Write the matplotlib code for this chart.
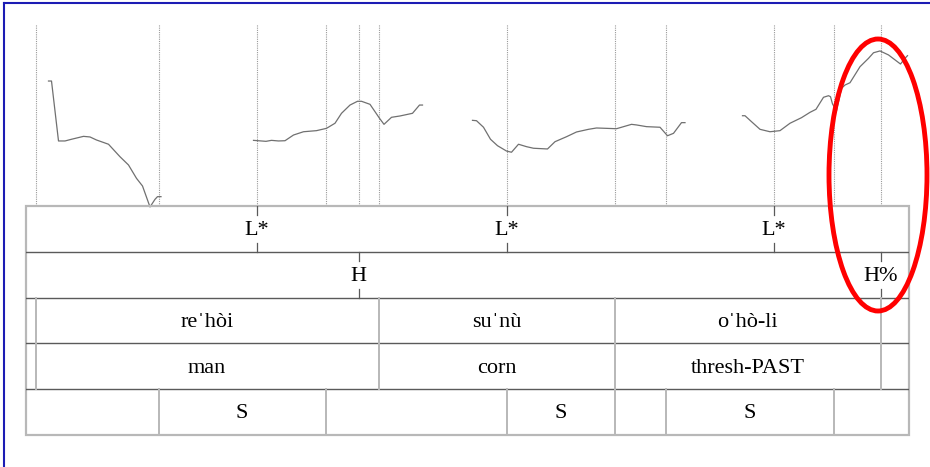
import matplotlib
matplotlib.use("Agg")
import matplotlib.pyplot as plt
from matplotlib.patches import Ellipse, Rectangle

# pitch track (time in s, f0 in Hz), one list per voiced stretch
seg_times = [
    [0.045, 0.051, 0.065, 0.078, 0.091, 0.115, 0.128, 0.141, 0.165, 0.188,
     0.205, 0.221, 0.233, 0.248, 0.258, 0.263, 0.270],
    [0.455, 0.480, 0.491, 0.505, 0.518, 0.535, 0.555, 0.581, 0.601, 0.618,
     0.631, 0.648, 0.663, 0.671, 0.688, 0.707, 0.716, 0.731, 0.748, 0.773,
     0.787, 0.793],
    [0.893, 0.901, 0.915, 0.929, 0.943, 0.961, 0.971, 0.985, 1.001, 1.015,
     1.043, 1.058, 1.081, 1.101, 1.125, 1.141, 1.181, 1.211, 1.221, 1.241,
     1.268, 1.283, 1.295, 1.311, 1.318],
    [1.433, 1.438, 1.451, 1.468, 1.488, 1.508, 1.528, 1.551, 1.568, 1.580,
     1.595, 1.605, 1.609, 1.613, 1.621, 1.631, 1.638, 1.648, 1.668, 1.685,
     1.695, 1.708, 1.725, 1.749, 1.758, 1.763],
]
seg_f0 = [
    [203.0, 203.0, 153.6, 153.6, 155.0, 157.4, 156.9, 154.4, 150.9, 140.6,
     133.8, 122.8, 116.5, 99.2, 105.5, 107.7, 107.7],
    [154.1, 153.3, 154.1, 153.6, 153.8, 158.5, 161.2, 162.1, 164.0, 168.2,
     176.4, 183.2, 186.3, 186.3, 183.8, 172.3, 167.3, 173.1, 174.2, 176.4,
     183.2, 183.2],
    [170.6, 170.3, 164.9, 155.0, 149.7, 145.3, 144.3, 150.9, 148.9, 147.6,
     147.0, 153.0, 157.1, 161.0, 163.2, 164.3, 163.7, 167.3, 166.8, 165.4,
     164.9, 157.9, 159.9, 168.7, 168.7],
    [174.4, 174.4, 169.5, 163.2, 161.2, 162.1, 168.2, 172.8, 177.2, 179.7,
     189.6, 190.9, 190.1, 184.1, 178.5, 197.0, 199.7, 201.6, 214.8, 221.7,
     226.3, 227.8, 224.5, 217.0, 221.7, 223.9],
]
duration = 1.766
f0_min, f0_max = 100, 250

# tiers
tone_times = [0.461, 0.962, 1.495]
tone_labels = ["L*", "L*", "L*"]
phrase_times = [0.665, 1.709]
phrase_labels = ["H", "H%"]
word_bounds = [0.0, 0.019, 0.705, 1.178, 1.709, duration]
word_labels = ["", "re\u02c8hòi", "su\u02c8nù", "o\u02c8hò-li", ""]
gloss_labels = ["", "man", "corn", "thresh-PAST", ""]
stress_bounds = [0.0, 0.265, 0.599, 0.962, 1.178, 1.279, 1.615, duration]
stress_labels = ["", "S", "", "S", "", "S", ""]

plt.rcParams["font.family"] = ["Liberation Serif", "DejaVu Serif"]

W, H = 930, 467
fig = plt.figure(figsize=(9.3, 4.67), dpi=100)

left, right = 26, 909
ax = fig.add_axes([left / W, 1 - 206 / H, (right - left) / W, (206 - 24) / H])
ax.set_xlim(0, duration)
ax.set_ylim(f0_min, f0_max)
ax.axis("off")

# dotted guides at every boundary
guides = sorted(set(tone_times + phrase_times + word_bounds[1:-1]
                    + stress_bounds[1:-1]))
ax.vlines(guides, f0_min, f0_max, colors="#9a9a9a", linestyles=(0, (1, 1)),
          linewidth=0.8)
for t, f in zip(seg_times, seg_f0):
    ax.plot(t, f, color="#707070", linewidth=0.9, clip_on=False)

# textgrid
tg = fig.add_axes([left / W, 1 - 435 / H, (right - left) / W, (435 - 206) / H])
tg.set_xlim(0, duration)
tg.set_ylim(0, 5)
tg.axis("off")
light = "#b8b8b8"
dark = "#5a5a5a"
fs = 16


def label(x, y, s):
    tg.text(x, y, s, ha="center", va="center", fontsize=fs,
            family=["Liberation Serif", "DejaVu Serif"])


tg.add_patch(Rectangle((0, 0), duration, 5, fill=False, edgecolor=light,
                       linewidth=1.6, clip_on=False))
for y in [1, 2, 3, 4]:
    tg.plot([0, duration], [y, y], color=dark, linewidth=1.0)


def point_tier(row, times, labels):
    top = 5 - row
    for t, lab in zip(times, labels):
        tg.plot([t, t], [top, top - 0.19], color=dark, linewidth=0.9)
        tg.plot([t, t], [top - 1, top - 0.81], color=dark, linewidth=0.9)
        label(t, top - 0.54, lab)


def interval_tier(row, bounds, labels):
    top = 5 - row
    for b in bounds[1:-1]:
        tg.plot([b, b], [top, top - 1], color=light, linewidth=1.4)
    for a, b, lab in zip(bounds[:-1], bounds[1:], labels):
        label((a + b) / 2, top - 0.54, lab)


point_tier(0, tone_times, tone_labels)
point_tier(1, phrase_times, phrase_labels)
interval_tier(2, word_bounds, word_labels)
interval_tier(3, word_bounds, gloss_labels)
interval_tier(4, stress_bounds, stress_labels)

# red circle around the final rise
fig.patches.append(Ellipse((878 / W, 1 - 175 / H), 98 / W, 272 / H,
                           transform=fig.transFigure, fill=False,
                           edgecolor="#ff0000", linewidth=3.5))

# blue frame (left and top edges)
fig.lines.append(plt.Line2D([4 / W, 4 / W], [0, 1 - 3 / H],
                            transform=fig.transFigure, color="#1c1cb4",
                            linewidth=1.5))
fig.lines.append(plt.Line2D([4 / W, 1], [1 - 3 / H, 1 - 3 / H],
                            transform=fig.transFigure, color="#1c1cb4",
                            linewidth=1.5))

fig.savefig("out.png", dpi=100)
